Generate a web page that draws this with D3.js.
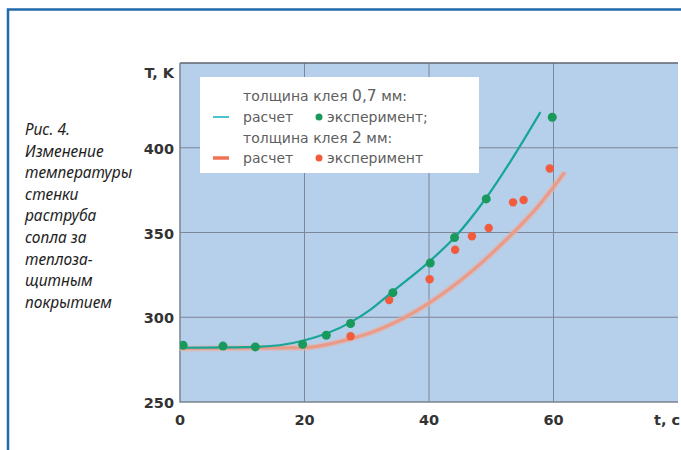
<!DOCTYPE html>
<html>
    <head>
        <meta charset="utf-8">
        <title>Рис. 4</title>
        <style>
         body { margin: 0; background: #fff; }
         svg { display: block; }
         .tick-label { font-family: "DejaVu Sans", sans-serif; font-weight: bold; font-size: 14.5px; fill: #333; }
         .caption { font-family: "Noto Sans", sans-serif; font-style: italic; font-size: 15.5px; fill: #1e1e1e; }
         .legend-text { font-family: "DejaVu Sans", sans-serif; font-size: 14px; fill: #5e5e5e; }
         .legend-num { font-size: 15.5px; }
        </style>
    </head>

    <body>
        <div id="chart"></div>

        <script src="https://d3js.org/d3.v7.min.js"></script>
        <script>
         // time, c
         var xTicks = [0, 20, 40, 60]
         // temperature, K
         var yTicks = [250, 300, 350, 400]

         // glue 0.7 mm: calculation curve and experiment points
         var calcThinT = [0, 12, 19.6, 27.4, 30.6, 34.1, 40.1, 44.1, 49.2, 53.1, 57.9]
         var calcThinK = [282, 282.5, 286, 297, 304.5, 315, 333, 347, 370.5, 392, 421]
         var expThinT = [0.5, 6.9, 12.1, 19.7, 23.5, 27.4, 34.2, 40.2, 44.1, 49.2, 59.8]
         var expThinK = [283.5, 283, 282.5, 284, 289.4, 296.3, 314.5, 332, 347, 369.8, 418]

         // glue 2 mm
         var calcThickT = [0, 19.8, 27.4, 30.6, 35.9, 40.1, 46.7, 52, 57.4, 61.8]
         var calcThickK = [281.5, 282, 287.3, 290.8, 299.5, 308.6, 326.6, 344.3, 364.9, 385.5]
         var expThickT = [27.4, 33.6, 40.1, 44.2, 46.9, 49.6, 53.5, 55.2, 59.4]
         var expThickK = [288.8, 310.2, 322.4, 339.8, 347.8, 352.7, 367.8, 369.2, 387.8]

         var captionLines = ["Рис. 4.", "Изменение", "температуры", "стенки",
                             "раструба", "сопла за", "теплоза-", "щитным", "покрытием"]

         // legend rows: [before number, number, after number]
         var legendHeads = [["толщина клея ", "0,7", " мм:"], ["толщина клея ", "2", " мм:"]]
         var legendCalc = "расчет"
         var legendExp = ["эксперимент;", "эксперимент"]

         function zip(a, b){
             return a.map(function(v, i){ return [v, b[i]] })
         }

         var W = 681, H = 450
         var plot = {left: 180, right: 678, top: 63, bottom: 402}

         var x = d3.scaleLinear().domain([0, 80]).range([plot.left, plot.right])
         var y = d3.scaleLinear().domain([250, 450]).range([plot.bottom, plot.top])

         var svg = d3.select("#chart").append("svg")
                     .attr("width", W).attr("height", H)

         // blue frame of the figure
         svg.append("path")
            .attr("d", "M8," + H + "V9.5H" + W)
            .attr("fill", "none")
            .attr("stroke", "#1f6aab")
            .attr("stroke-width", 2.5)

         svg.append("defs").append("clipPath").attr("id", "clip")
            .append("rect")
            .attr("x", plot.left).attr("y", plot.top)
            .attr("width", plot.right - plot.left)
            .attr("height", plot.bottom - plot.top)

         svg.append("rect")
            .attr("x", plot.left).attr("y", plot.top)
            .attr("width", plot.right - plot.left)
            .attr("height", plot.bottom - plot.top)
            .attr("fill", "#b6cfea")

         // grid
         var grid = svg.append("g")
         grid.selectAll(".vg").data(xTicks.filter(function(d){ return d > 0 }))
             .enter().append("line")
             .attr("x1", x).attr("x2", x)
             .attr("y1", plot.top).attr("y2", plot.bottom)
             .attr("stroke", "#7d8797").attr("stroke-width", 1)
         grid.selectAll(".hg").data(yTicks.filter(function(d){ return d > 250 }))
             .enter().append("line")
             .attr("y1", y).attr("y2", y)
             .attr("x1", plot.left).attr("x2", plot.right)
             .attr("stroke", "#7d8797").attr("stroke-width", 1)

         // frame lines of the plot
         svg.append("path")
            .attr("d", "M" + plot.left + "," + plot.top + "H" + plot.right)
            .attr("stroke", "#5f6670").attr("stroke-width", 1.5)
         svg.append("path")
            .attr("d", "M" + plot.left + "," + plot.top + "V" + plot.bottom + "H" + plot.right)
            .attr("fill", "none")
            .attr("stroke", "#7a828d").attr("stroke-width", 1.5)

         var line = d3.line()
                      .x(function(d){ return x(d[0]) })
                      .y(function(d){ return y(d[1]) })
                      .curve(d3.curveMonotoneX)

         var g = svg.append("g").attr("clip-path", "url(#clip)")

         // 2 mm calculation: wide salmon band
         g.append("path")
          .datum(zip(calcThickT, calcThickK))
          .attr("d", line)
          .attr("fill", "none")
          .attr("stroke", "#eab0a4").attr("stroke-width", 6).attr("opacity", 0.6)
         g.append("path")
          .datum(zip(calcThickT, calcThickK))
          .attr("d", line)
          .attr("fill", "none")
          .attr("stroke", "#e99a88").attr("stroke-width", 3)

         g.selectAll(".red").data(zip(expThickT, expThickK))
          .enter().append("circle")
          .attr("cx", function(d){ return x(d[0]) })
          .attr("cy", function(d){ return y(d[1]) })
          .attr("r", 4.2)
          .attr("fill", "#f25c3c")

         g.append("path")
          .datum(zip(calcThinT, calcThinK))
          .attr("d", line)
          .attr("fill", "none")
          .attr("stroke", "#17a596").attr("stroke-width", 2.2)

         g.selectAll(".green").data(zip(expThinT, expThinK))
          .enter().append("circle")
          .attr("cx", function(d){ return x(d[0]) })
          .attr("cy", function(d){ return y(d[1]) })
          .attr("r", 4.5)
          .attr("fill", "#189a5c")

         // tick labels
         svg.selectAll(".xt").data(xTicks)
            .enter().append("text")
            .attr("class", "tick-label")
            .attr("x", x).attr("y", 425)
            .attr("text-anchor", "middle")
            .text(function(d){ return d })
         svg.append("text").attr("class", "tick-label")
            .attr("x", 654).attr("y", 425).text("t, с")

         svg.selectAll(".yt").data(yTicks)
            .enter().append("text")
            .attr("class", "tick-label")
            .attr("x", 174).attr("y", function(d){ return y(d) + 6 })
            .attr("text-anchor", "end")
            .text(function(d){ return d })
         svg.append("text").attr("class", "tick-label")
            .attr("x", 174).attr("y", 78)
            .attr("text-anchor", "end")
            .text("T, K")

         // caption
         svg.selectAll(".cap").data(captionLines)
            .enter().append("text")
            .attr("class", "caption")
            .attr("x", 25)
            .attr("y", function(d, i){ return 135 + i * 21.6 })
            .text(function(d){ return d })

         // legend
         var lg = svg.append("g")
         lg.append("rect")
           .attr("x", 200).attr("y", 77).attr("width", 279).attr("height", 96)
           .attr("fill", "#fff")

         var headRows = [101, 143], itemRows = [122, 163]
         var colors = [{line: "#4cc2cc", w: 2, dot: "#189a5c"},
                       {line: "#f07252", w: 3.5, dot: "#f25c3c"}]
         legendHeads.forEach(function(h, i){
             var t = lg.append("text").attr("class", "legend-text")
                       .attr("x", 243).attr("y", headRows[i])
             t.append("tspan").text(h[0])
             t.append("tspan").attr("class", "legend-num").text(h[1])
             t.append("tspan").text(h[2])

             lg.append("text").attr("class", "legend-text")
               .attr("x", 243).attr("y", itemRows[i]).text(legendCalc)
             lg.append("text").attr("class", "legend-text")
               .attr("x", 327).attr("y", itemRows[i]).text(legendExp[i])
             lg.append("line")
               .attr("x1", 213).attr("x2", 229)
               .attr("y1", itemRows[i] - 5).attr("y2", itemRows[i] - 5)
               .attr("stroke", colors[i].line).attr("stroke-width", colors[i].w)
             lg.append("circle")
               .attr("cx", 319).attr("cy", itemRows[i] - 5).attr("r", 3.5)
               .attr("fill", colors[i].dot)
         })
        </script>
    </body>
</html>
